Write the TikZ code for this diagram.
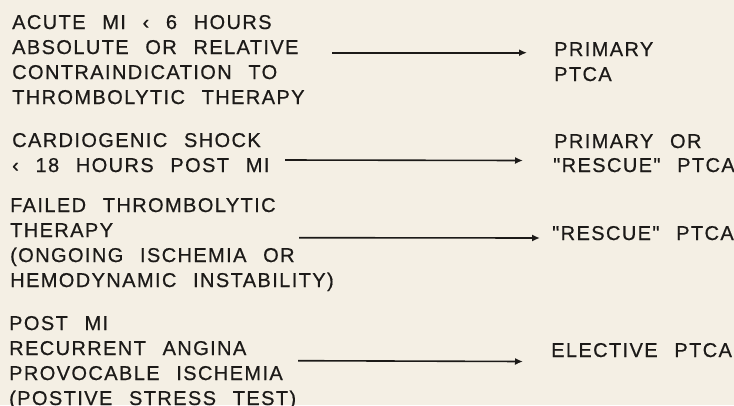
\documentclass[tikz,border=0pt]{standalone}
\usepackage{fontspec}
\newfontfamily\labfont{Liberation Sans}[LetterSpace=7,WordSpace=2.4,FakeBold=0.6]
\usetikzlibrary{arrows.meta}
\definecolor{paper}{HTML}{F4EFE4}
\definecolor{ink}{HTML}{1C1A18}
\tikzset{
  txt/.style={anchor=base west, inner sep=0pt, font=\labfont\fontsize{20}{25}\selectfont, text=ink},
  arr/.style={draw=ink, line width=1.6pt, -{Latex[length=8pt,width=7pt]}},
}
\begin{document}
\begin{tikzpicture}[x=1pt,y=-1pt]
\fill[paper] (0,0) rectangle (734,405);
\useasboundingbox (0,0) rectangle (734,405);
% group 1
\node[txt] (l1a) at (12,29) {ACUTE MI ‹ 6 HOURS};
\node[txt] (l1b) at (12,54) {ABSOLUTE OR RELATIVE};
\node[txt] (l1c) at (12,79) {CONTRAINDICATION TO};
\node[txt] (l1d) at (12,104) {THROMBOLYTIC THERAPY};
% group 2
\node[txt] (l2a) at (12,147) {CARDIOGENIC SHOCK};
\node[txt] (l2b) at (12,172) {‹ 18 HOURS POST MI};
% group 3
\node[txt] (l3a) at (10,212) {FAILED THROMBOLYTIC};
\node[txt] (l3b) at (10,237) {THERAPY};
\node[txt] (l3c) at (10,262) {(ONGOING ISCHEMIA OR};
\node[txt] (l3d) at (10,287) {HEMODYNAMIC INSTABILITY)};
% group 4
\node[txt] (l4a) at (9,330) {POST MI};
\node[txt] (l4b) at (9,355) {RECURRENT ANGINA};
\node[txt] (l4c) at (9,380) {PROVOCABLE ISCHEMIA};
\node[txt] (l4d) at (9,405) {(POSTIVE STRESS TEST)};
% results
\node[txt] (r1a) at (554,56) {PRIMARY};
\node[txt] (r1b) at (554,81) {PTCA};
\node[txt] (r2a) at (554,148) {PRIMARY OR};
\node[txt] (r2b) at (553,172) {"RESCUE" PTCA};
\node[txt] (r3) at (552,240) {"RESCUE" PTCA};
\node[txt] (r4) at (551,357) {ELECTIVE PTCA};
% arrows
\coordinate (a1s) at (332,52.7);
\coordinate (a1e) at (527,52.7);
\coordinate (a2s) at (285,160);
\coordinate (a2e) at (523,160.5);
\coordinate (a3s) at (299,237.7);
\coordinate (a3e) at (540,238);
\coordinate (a4s) at (298,360.7);
\coordinate (a4e) at (523,361.5);
\draw[arr] (a1s) -- (a1e);
\draw[arr] (a2s) -- (a2e);
\draw[arr] (a3s) -- (a3e);
\draw[arr] (a4s) -- (a4e);
\end{tikzpicture}
\end{document}
